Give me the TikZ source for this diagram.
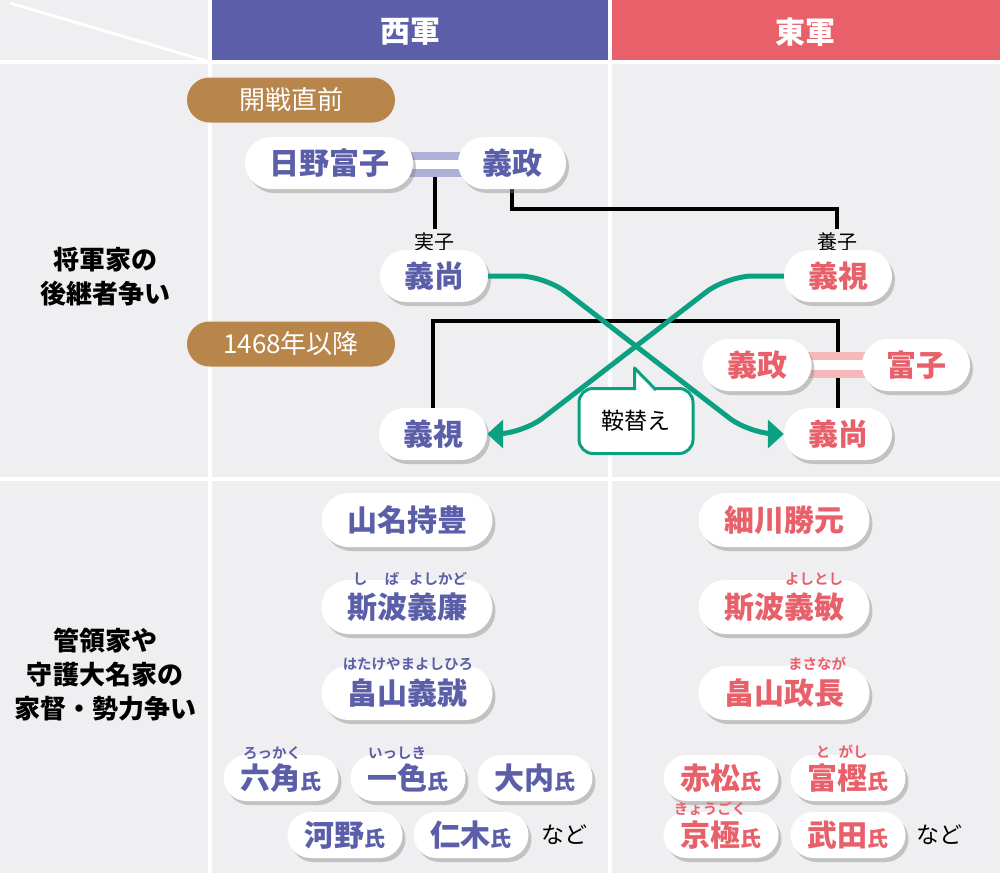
\documentclass[tikz,border=0pt]{standalone}
\usepackage{fontspec}
\setmainfont{Noto Sans CJK JP}[BoldFont={Noto Sans CJK JP Bold}]
\newfontfamily\heavy{Noto Sans CJK JP Black}
\usetikzlibrary{shapes.misc,shadows,arrows.meta}
\definecolor{bg}{HTML}{EFEEF1}
\definecolor{west}{HTML}{5B5EA8}
\definecolor{east}{HTML}{E8606A}
\definecolor{brown}{HTML}{B8864A}
\definecolor{teal}{HTML}{0BA082}
\definecolor{lpurple}{HTML}{AEB0D8}
\definecolor{lpink}{HTML}{F5B9B9}
\tikzset{
  pill/.style={rounded rectangle, fill=white, inner sep=0pt, minimum height=52pt,
    drop shadow={opacity=.4, shadow xshift=3pt, shadow yshift=-4pt},
    font=\heavy\fontsize{30}{30}\selectfont},
  wpill/.style={pill, text=west},
  epill/.style={pill, text=east},
  small/.style={minimum width=115pt, minimum height=46pt},
  era/.style={rounded rectangle, fill=brown, text=white, inner sep=0pt,
    minimum width=208pt, minimum height=45pt, font=\fontsize{26}{26}\selectfont},
  ruby/.style={inner sep=0pt, font=\bfseries\fontsize{14.5}{14.5}\selectfont},
  tag/.style={inner sep=1pt, font=\fontsize{20}{20}\selectfont},
  sidelabel/.style={align=center, inner sep=0pt, font=\heavy\fontsize{26}{34}\selectfont},
  head/.style={text=white, font=\heavy\fontsize{30}{30}\selectfont},
  conn/.style={draw=black, line width=3.2pt},
  swap/.style={draw=teal, line width=5pt, rounded corners=26pt, -{Triangle[length=16pt,width=28pt]}},
}
\newcommand{\shi}{{\fontsize{21}{21}\selectfont 氏}}
\begin{document}
\begin{tikzpicture}[x=1pt,y=-1pt]
\useasboundingbox (0,0) rectangle (1000,873);
\fill[bg] (0,0) rectangle (1000,873);
% headers
\fill[west] (210,0) rectangle (609,62);
\fill[east] (609,0) rectangle (1000,62);
\draw[white, line width=4pt] (210,0) -- (210,873);
\draw[white, line width=4pt] (609.5,0) -- (609.5,873);
\draw[white, line width=4pt] (0,62) -- (1000,62);
\draw[white, line width=4pt] (0,479) -- (1000,479);
\draw[white, line width=3pt] (10,3) -- (210,62);
\node[head] (hw) at (410,32) {西軍};
\node[head] (he) at (805,32) {東軍};

% side labels
\node[sidelabel] (lab1) at (105,277) {将軍家の\\後継者争い};
\node[sidelabel] (lab2) at (105,675) {管領家や\\守護大名家の\\家督・勢力争い};

% era pills
\node[era] (era1) at (291,100) {開戦直前};
\node[era] (era2) at (291,344) {1468年以降};

% tags
\node[tag] (jitsu) at (434,242) {実子};
\node[tag] (youshi) at (837,242) {養子};

% black connectors
\coordinate (eqW) at (435,177);
\draw[conn] (eqW) -- (435,229);
\coordinate (ymS) at (512,189);
\draw[conn] (ymS) -- (512,209) -- (837,209) -- (837,229);
\coordinate (boxL) at (433,408);
\coordinate (boxR) at (838,408);
\draw[conn] (boxL) -- (433,321) -- (838,321) -- (boxR);

% marriage bands
\fill[lpurple] (405,152) rectangle (465,177);
\fill[white] (405,160) rectangle (465,169);
\fill[lpink] (806,352) rectangle (868,378);
\fill[white] (806,360) rectangle (868,369.5);

% upper nodes
\node[wpill, minimum width=168pt] (tomiko) at (329,163) {日野富子};
\node[wpill, minimum width=108pt] (wmasa) at (512,163) {義政};
\node[wpill, minimum width=108pt] (whisa) at (434,276) {義尚};
\node[epill, minimum width=108pt] (emi) at (838,276) {義視};
\node[wpill, minimum width=108pt] (wmi) at (433,434) {義視};
\node[epill, minimum width=108pt] (ehisa) at (838,434) {義尚};
\node[epill, minimum width=109pt] (emasa) at (757,365) {義政};
\node[epill, minimum width=108pt] (etomi) at (916,365) {富子};

% swap arrows
\draw[swap] (whisa.east) -- (545,276) -- (750,434) -- (ehisa.west);
\draw[swap] (emi.west) -- (727,276) -- (522,434) -- (wmi.east);

% bubble
\node[draw=teal, line width=3pt, fill=white, rounded corners=14pt, minimum width=114pt,
  minimum height=65pt, inner sep=0pt, font=\fontsize{23}{23}\selectfont] (kura) at (636,421) {鞍替え};
\fill[white] (634.5,391) -- (634.5,368) -- (657,391) -- cycle;
\draw[teal, line width=3pt, line join=round] (634.5,390) -- (634.5,368) -- (656,390);

% lower big nodes
\node[wpill, minimum width=171pt, minimum height=54pt] (yamana) at (407,520) {山名持豊};
\node[wpill, minimum width=171pt, minimum height=54pt] (shibaw) at (407,607) {斯波義廉};
\node[wpill, minimum width=171pt, minimum height=54pt] (hatakew) at (407,693) {畠山義就};
\node[epill, minimum width=171pt, minimum height=54pt] (hosokawa) at (784,520) {細川勝元};
\node[epill, minimum width=171pt, minimum height=54pt] (shibae) at (784,607) {斯波義敏};
\node[epill, minimum width=171pt, minimum height=54pt] (hatakee) at (784,693) {畠山政長};

% clans
\node[wpill, small] (rokkaku) at (281,778) {六角\shi};
\node[wpill, small] (isshiki) at (408,778) {一色\shi};
\node[wpill, small] (ouchi) at (535,778) {大内\shi};
\node[wpill, small] (kono) at (345,835) {河野\shi};
\node[wpill, small] (niki) at (471,835) {仁木\shi};
\node[tag, font=\fontsize{23}{23}\selectfont] (nado1) at (564,835) {など};
\node[epill, small] (akamatsu) at (721,778) {赤松\shi};
\node[epill, small] (togashi) at (848,778) {富樫\shi};
\node[epill, small] (kyogoku) at (721,835) {京極\shi};
\node[epill, small] (takeda) at (848,835) {武田\shi};
\node[tag, font=\fontsize{23}{23}\selectfont] (nado2) at (939,835) {など};

% ruby
\node[ruby, text=west] (r1a) at (360,579) {し};
\node[ruby, text=west] (r1b) at (392,579) {ば};
\node[ruby, text=west] (r1c) at (438,579) {よしかど};
\node[ruby, text=west] (r2) at (408,664) {はたけやまよしひろ};
\node[ruby, text=east] (r3) at (814,579) {よしとし};
\node[ruby, text=east] (r4) at (817,664) {まさなが};
\node[ruby, text=west] (r5) at (272,753) {ろっかく};
\node[ruby, text=west] (r6) at (397,753) {いっしき};
\node[ruby, text=east] (r7a) at (823,752) {と};
\node[ruby, text=east] (r7b) at (853,752) {がし};
\node[ruby, text=east] (r8) at (710,809) {きょうごく};
\end{tikzpicture}
\end{document}
